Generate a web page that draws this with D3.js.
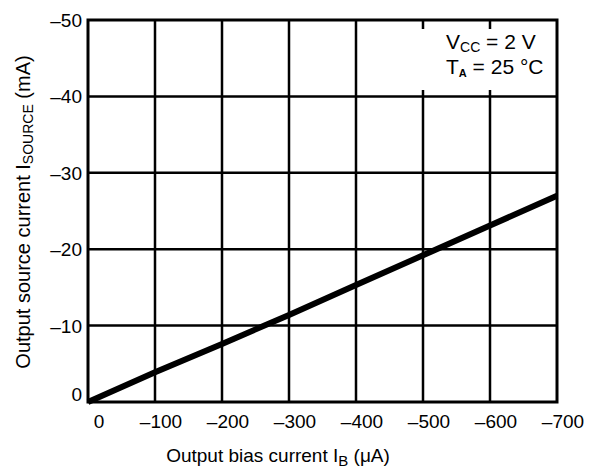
<!DOCTYPE html>
<html>
<head>
<meta charset="utf-8">
<script src="https://cdn.jsdelivr.net/npm/d3@7"></script>
<style>
  body { margin: 0; background: #fff; }
  svg { display: block; }
</style>
</head>
<body>
<svg id="chart"></svg>
<script>
const width = 590;
const height = 468;

const biasCurrent = [0, -100, -200, -300, -400, -500, -600, -700];   // uA
const sourceCurrent = [0, -3.9, -7.6, -11.4, -15.3, -19.2, -23.1, -27.0]; // mA
const xTicks = [0, -100, -200, -300, -400, -500, -600, -700];
const yTicks = [0, -10, -20, -30, -40, -50];

const plot = { left: 88, right: 557, top: 20, bottom: 402 };

const svg = d3.select("#chart")
    .attr("width", width)
    .attr("height", height)
    .attr("font-family", "'Liberation Sans', Arial, sans-serif");

const x = d3.scaleLinear().domain([0, -700]).range([plot.left, plot.right]);
const y = d3.scaleLinear().domain([0, -50]).range([plot.bottom, plot.top]);

const fmt = d => d < 0 ? "\u2013" + Math.abs(d) : String(d);

// grid
svg.append("g")
    .selectAll("line")
    .data(xTicks.slice(1, -1))
    .join("line")
    .attr("x1", d => x(d)).attr("x2", d => x(d))
    .attr("y1", plot.top).attr("y2", plot.bottom)
    .attr("stroke", "#000").attr("stroke-width", 2.5);

svg.append("g")
    .selectAll("line")
    .data(yTicks.slice(1, -1))
    .join("line")
    .attr("x1", plot.left).attr("x2", plot.right)
    .attr("y1", d => y(d)).attr("y2", d => y(d))
    .attr("stroke", "#000").attr("stroke-width", 2.5);

// annotation box covers the grid
svg.append("rect")
    .attr("x", 419).attr("y", 29)
    .attr("width", plot.right - 419).attr("height", 61)
    .attr("fill", "#fff");

// frame
svg.append("rect")
    .attr("x", plot.left).attr("y", plot.top)
    .attr("width", plot.right - plot.left)
    .attr("height", plot.bottom - plot.top)
    .attr("fill", "none")
    .attr("stroke", "#000").attr("stroke-width", 3);

// data line
const line = d3.line()
    .x((d, i) => x(biasCurrent[i]))
    .y(d => y(d));

svg.append("path")
    .datum(sourceCurrent)
    .attr("d", line)
    .attr("fill", "none")
    .attr("stroke", "#000")
    .attr("stroke-width", 6);

// tick labels
svg.append("g")
    .attr("font-size", 19)
    .attr("text-anchor", "middle")
    .selectAll("text")
    .data(xTicks)
    .join("text")
    .attr("x", d => x(d) + (d === 0 ? 11 : 6))
    .attr("y", 428)
    .text(fmt);

svg.append("g")
    .attr("font-size", 19)
    .attr("text-anchor", "end")
    .selectAll("text")
    .data(yTicks)
    .join("text")
    .attr("x", 82)
    .attr("y", d => y(d) + (d === 0 ? -1 : 7))
    .text(fmt);

// axis titles
const xt = svg.append("text")
    .attr("x", 278).attr("y", 462)
    .attr("font-size", 19)
    .attr("text-anchor", "middle");
xt.append("tspan").text("Output bias current I");
xt.append("tspan").attr("font-size", 15).attr("dy", 4).text("B");
xt.append("tspan").attr("dy", -4).text(" (\u03bcA)");

const yt = svg.append("text")
    .attr("transform", "translate(30,212) rotate(-90)")
    .attr("font-size", 20)
    .attr("text-anchor", "middle");
yt.append("tspan").text("Output source current I");
yt.append("tspan").attr("font-size", 14).attr("dy", 3).text("SOURCE");
yt.append("tspan").attr("dy", -3).text(" (mA)");

// conditions
const a1 = svg.append("text").attr("x", 446).attr("y", 49).attr("font-size", 21);
a1.append("tspan").text("V");
a1.append("tspan").attr("font-size", 14).attr("dy", 3).text("CC");
a1.append("tspan").attr("dy", -3).text(" = 2 V");

const a2 = svg.append("text").attr("x", 446).attr("y", 74).attr("font-size", 21);
a2.append("tspan").text("T");
a2.append("tspan").attr("font-size", 11).attr("font-weight", "bold").attr("dy", 3).text("A");
a2.append("tspan").attr("dy", -3).text(" = 25 \u00b0C");
</script>
</body>
</html>
